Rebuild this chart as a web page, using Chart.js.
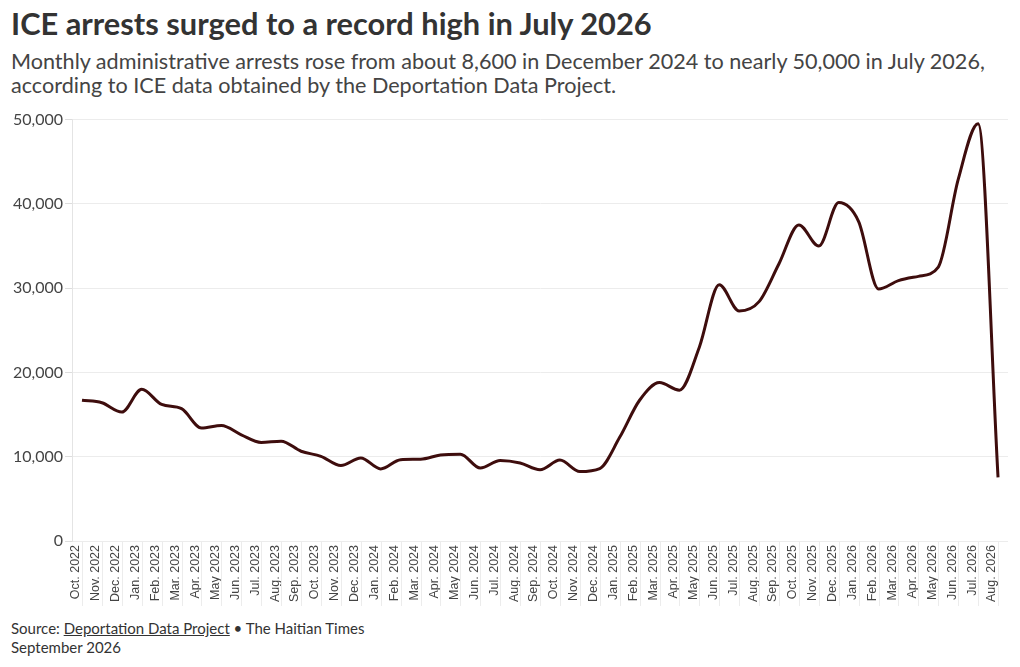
<!DOCTYPE html>
<html>
<head>
    <script src="https://cdn.jsdelivr.net/npm/chart.js"></script>
    <style>
        body { margin: 0; background: #fff; font-family: Lato, sans-serif; color: #333; }
        #title { position: absolute; left: 11px; top: 5px; font-size: 30.8px; font-weight: bold; color: #333; }
        #sub { position: absolute; left: 11px; top: 49px; font-size: 21.6px; line-height: 24px; color: #444; }
        #chartBox { position: absolute; left: 0; top: 108px; width: 1020px; height: 498px; }
        #foot { position: absolute; left: 11px; top: 619px; font-size: 15px; line-height: 19px; color: #333; }
        #foot u { text-decoration: underline; }
    </style>
</head>
<body>

    <div id="title">ICE arrests surged to a record high in July 2026</div>
    <div id="sub">Monthly administrative arrests rose from about 8,600 in December 2024 to nearly 50,000 in July 2026,<br>according to ICE data obtained by the Deportation Data Project.</div>
    <div id="chartBox"><canvas id="arrestChart"></canvas></div>
    <div id="foot">Source: <u>Deportation Data Project</u> &bull; The Haitian Times<br>September 2026</div>

    <script>
        const months = [
            'Oct. 2022', 'Nov. 2022', 'Dec. 2022',
            'Jan. 2023', 'Feb. 2023', 'Mar. 2023', 'Apr. 2023', 'May 2023', 'Jun. 2023',
            'Jul. 2023', 'Aug. 2023', 'Sep. 2023', 'Oct. 2023', 'Nov. 2023', 'Dec. 2023',
            'Jan. 2024', 'Feb. 2024', 'Mar. 2024', 'Apr. 2024', 'May 2024', 'Jun. 2024',
            'Jul. 2024', 'Aug. 2024', 'Sep. 2024', 'Oct. 2024', 'Nov. 2024', 'Dec. 2024',
            'Jan. 2025', 'Feb. 2025', 'Mar. 2025', 'Apr. 2025', 'May 2025', 'Jun. 2025',
            'Jul. 2025', 'Aug. 2025', 'Sep. 2025', 'Oct. 2025', 'Nov. 2025', 'Dec. 2025',
            'Jan. 2026', 'Feb. 2026', 'Mar. 2026', 'Apr. 2026', 'May 2026', 'Jun. 2026',
            'Jul. 2026', 'Aug. 2026'
        ];

        const arrests = [
            16700, 16400, 15300,
            18000, 16200, 15700, 13400, 13700, 12600,
            11700, 11850, 10650, 10050, 8950, 9850,
            8550, 9650, 9700, 10200, 10300, 8650,
            9550, 9250, 8450, 9600, 8250, 8600,
            12300, 16700, 18800, 17900, 23000, 30400,
            27300, 28400, 32900, 37500, 35000, 40150,
            37900, 29900, 30900, 31400, 32500, 42900,
            49500, 7550
        ];

        const yTicksMax = 50000;
        const yTickStep = 10000;

        // faint separators under the x axis, one per month
        const labelLines = {
            id: 'labelLines',
            afterDraw(chart) {
                const x = chart.scales.x;
                const ctx = chart.ctx;
                ctx.save();
                ctx.strokeStyle = '#ececec';
                ctx.lineWidth = 1;
                for (let i = 0; i < months.length; i++) {
                    const px = Math.round(x.getPixelForTick(i)) + 0.5;
                    ctx.beginPath();
                    ctx.moveTo(px, x.top);
                    ctx.lineTo(px, x.top + 67);
                    ctx.stroke();
                }
                ctx.restore();
            }
        };

        const data = {
            labels: months,
            datasets: [{
                label: 'Administrative arrests',
                data: arrests,
                borderColor: '#3e0d0d',
                backgroundColor: '#3e0d0d',
                borderWidth: 3,
                pointRadius: 0,
                cubicInterpolationMode: 'monotone',
                fill: false
            }]
        };

        const config = {
            type: 'line',
            data: data,
            plugins: [labelLines],
            options: {
                responsive: true,
                maintainAspectRatio: false,
                animation: false,
                layout: { padding: { left: 11, right: 12, top: 10, bottom: 0 } },
                plugins: {
                    legend: { display: false },
                    tooltip: { enabled: false }
                },
                scales: {
                    x: {
                        offset: true,
                        grid: { display: false, drawTicks: false },
                        border: { display: false },
                        ticks: {
                            autoSkip: false,
                            maxRotation: 90,
                            minRotation: 90,
                            padding: 4,
                            labelOffset: -6,
                            color: '#444',
                            font: { family: 'Liberation Sans', size: 12.5 }
                        }
                    },
                    y: {
                        min: 0,
                        max: yTicksMax,
                        grid: {
                            color: '#ececec',
                            tickLength: 7,
                            tickColor: '#ddd'
                        },
                        border: { display: true, color: '#e4e4e4' },
                        ticks: {
                            stepSize: yTickStep,
                            padding: 2,
                            color: '#444',
                            font: { family: 'Lato', size: 16 }
                        }
                    }
                }
            }
        };

        const myChart = new Chart(document.getElementById('arrestChart'), config);
    </script>

</body>
</html>
